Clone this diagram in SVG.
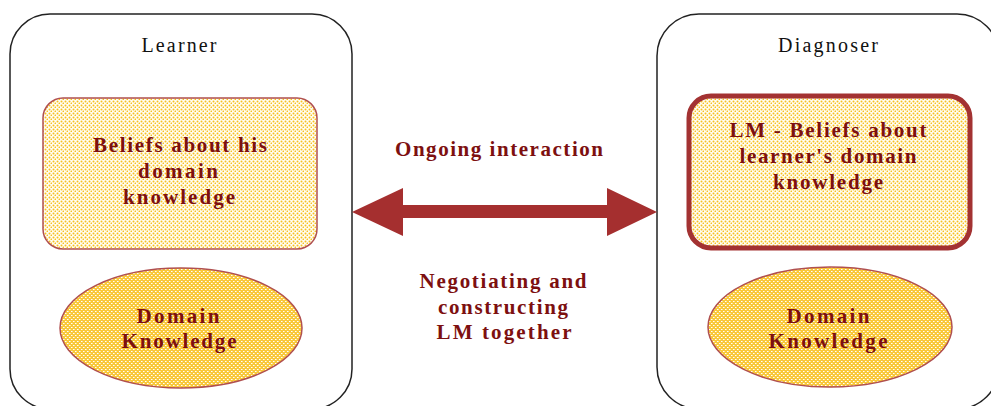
<svg xmlns="http://www.w3.org/2000/svg" width="991" height="406" viewBox="0 0 991 406">
<defs>
<pattern id="dots" patternUnits="userSpaceOnUse" x="0" y="0" width="4" height="4">
<rect width="4" height="4" fill="#fffdf2"/>
<circle cx="1.5" cy="1.5" r="1" fill="#f8c020"/>
<circle cx="3.5" cy="3.5" r="1" fill="#f8c020"/>
</pattern>
<pattern id="hatch" patternUnits="userSpaceOnUse" x="0" y="0" width="4" height="4">
<rect width="4" height="4" fill="#f9c83a"/>
<rect x="1" y="1" width="1" height="1" fill="#ffffff"/>
<rect x="3" y="3" width="1" height="1" fill="#ffffff"/>
<rect x="2" y="1" width="1" height="1" fill="#fde7a0"/>
<rect x="0" y="3" width="1" height="1" fill="#fde7a0"/>
</pattern>
<style>
.frame{fill:#fff;stroke:#222;stroke-width:1.5}
.title{font-family:"Liberation Serif",serif;font-size:20px;fill:#111;text-anchor:middle}
.lbl{font-family:"Liberation Serif",serif;font-weight:bold;font-size:21px;fill:#7d1010;text-anchor:middle}
.thin{fill:url(#dots);stroke:#b05050;stroke-width:1.5}
.thick{fill:url(#dots);stroke:#a33232;stroke-width:5}
.ell{fill:url(#hatch);stroke:#b05050;stroke-width:1.5}
.arrow{fill:#a52f2f}
</style>
</defs>
<g id="learner">
<rect class="frame" x="10" y="14" width="342" height="395" rx="40" ry="40"/>
<text class="title" x="179" y="52" textLength="75" lengthAdjust="spacing">Learner</text>
</g>
<g id="diagnoser">
<rect class="frame" x="657" y="14" width="342" height="395" rx="42" ry="42"/>
<text class="title" x="828" y="52" textLength="100" lengthAdjust="spacing">Diagnoser</text>
</g>
<g id="learner-beliefs">
<rect class="thin" x="43" y="98" width="274" height="151" rx="20" ry="20"/>
<text class="lbl" x="180" y="152" textLength="174" lengthAdjust="spacing">Beliefs about his</text>
<text class="lbl" x="178" y="178" textLength="80" lengthAdjust="spacing">domain</text>
<text class="lbl" x="179" y="204" textLength="112" lengthAdjust="spacing">knowledge</text>
</g>
<g id="learner-domain">
<ellipse class="ell" cx="181" cy="328" rx="121" ry="60"/>
<text class="lbl" x="178" y="323" textLength="83" lengthAdjust="spacing">Domain</text>
<text class="lbl" x="179" y="348" textLength="115" lengthAdjust="spacing">Knowledge</text>
</g>
<g id="lm-beliefs">
<rect class="thick" x="689" y="96" width="281" height="152" rx="22" ry="22"/>
<text class="lbl" x="828" y="137" textLength="197" lengthAdjust="spacing">LM - Beliefs about</text>
<text class="lbl" x="828" y="163" textLength="177" lengthAdjust="spacing">learner's domain</text>
<text class="lbl" x="828" y="189" textLength="110" lengthAdjust="spacing">knowledge</text>
</g>
<g id="diagnoser-domain">
<ellipse class="ell" cx="830" cy="327" rx="122" ry="60"/>
<text class="lbl" x="828" y="323" textLength="83" lengthAdjust="spacing">Domain</text>
<text class="lbl" x="828" y="348" textLength="119" lengthAdjust="spacing">Knowledge</text>
</g>
<g id="connectors">
<polygon class="arrow" points="352,212 403,188 403,205 607,205 607,188 657,212 607,236 607,218 403,218 403,236"/>
<text class="lbl" x="499" y="156" textLength="208" lengthAdjust="spacing">Ongoing interaction</text>
<text class="lbl" x="503" y="288" textLength="167" lengthAdjust="spacing">Negotiating and</text>
<text class="lbl" x="503" y="314" textLength="130" lengthAdjust="spacing">constructing</text>
<text class="lbl" x="504" y="339" textLength="135" lengthAdjust="spacing">LM together</text>
</g>
</svg>
